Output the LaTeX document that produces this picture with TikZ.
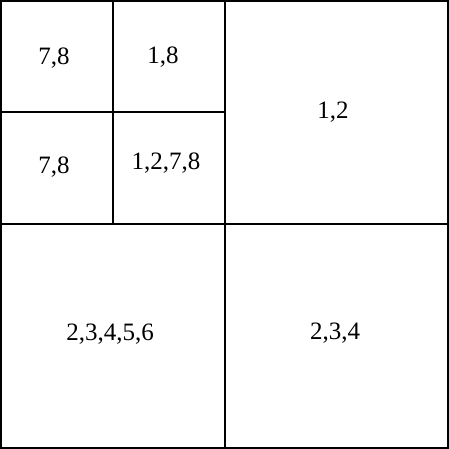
\documentclass[tikz,border=0pt]{standalone}
\usepackage{fontspec}
\setmainfont{Liberation Serif}
\begin{document}
\begin{tikzpicture}[x=1pt,y=-1pt,
  cell/.style={draw=black,line width=2pt},
  lab/.style={font=\fontsize{25}{29}\selectfont,inner sep=0pt}]
\useasboundingbox (0,0) rectangle (449,449);
\draw[cell] (1,1) rectangle (448,448);
\draw[cell] (225,1) -- (225,448);
\draw[cell] (1,224) -- (448,224);
\draw[cell] (113,1) -- (113,224);
\draw[cell] (1,112) -- (225,112);
\node[lab] (a) at (54,58) {7,8};
\node[lab] (b) at (163,57) {1,8};
\node[lab] (c) at (54,167) {7,8};
\node[lab] (d) at (166,163) {1,2,7,8};
\node[lab] (e) at (333,112) {1,2};
\node[lab] (f) at (110,334) {2,3,4,5,6};
\node[lab] (g) at (335,333) {2,3,4};
\end{tikzpicture}
\end{document}
